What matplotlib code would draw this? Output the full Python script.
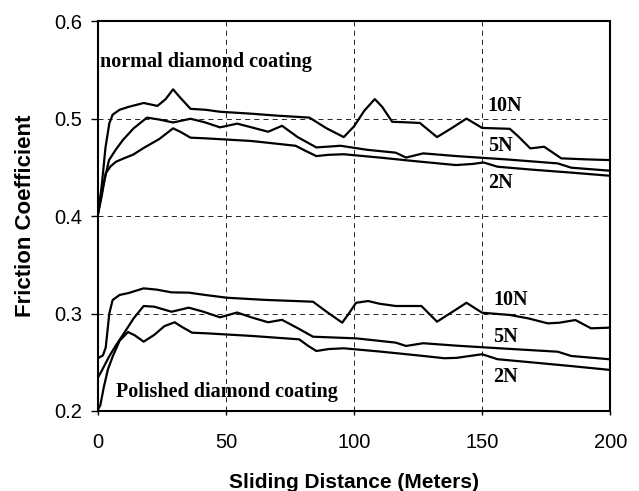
import matplotlib
matplotlib.use("Agg")
import matplotlib.pyplot as plt

# ---- data ----
x_n10 = [0, 1.5, 3, 4.5, 5.8, 8.5, 12, 17.9, 23.3, 26.5, 29.4, 32, 36.2, 42.2, 47.7, 60, 70, 82.6, 89.3, 96, 100, 104, 108.1, 111, 114.9, 120, 125.7, 132.4, 138, 143.9, 150, 160.8, 164, 168.8, 174.2, 180.9, 190, 200]
y_n10 = [0.401, 0.43, 0.47, 0.495, 0.504, 0.509, 0.512, 0.516, 0.513, 0.52, 0.530, 0.522, 0.510, 0.509, 0.507, 0.505, 0.503, 0.501, 0.490, 0.481, 0.492, 0.508, 0.520, 0.512, 0.4967, 0.4962, 0.4955, 0.481, 0.49, 0.500, 0.4904, 0.4895, 0.482, 0.4694, 0.4711, 0.4592, 0.4582, 0.4574]

x_n5 = [0, 2, 4.4, 7, 9.8, 14, 19.2, 24, 29.4, 36.2, 42, 47.7, 54.4, 60, 66.5, 71.9, 78, 85.3, 94.8, 105, 116.3, 120.3, 127, 140, 160, 179.5, 184.8, 200]
y_n5 = [0.401, 0.43, 0.4574, 0.468, 0.478, 0.490, 0.501, 0.499, 0.496, 0.4998, 0.496, 0.491, 0.4948, 0.491, 0.4865, 0.4926, 0.481, 0.4704, 0.4721, 0.468, 0.465, 0.460, 0.4643, 0.4615, 0.458, 0.454, 0.4496, 0.4465]

x_n2 = [0, 1.5, 3.1, 5, 7.1, 10, 13.8, 18, 24, 29.4, 32.5, 36.2, 42.2, 60, 77.2, 81, 85.3, 90, 96, 110, 125, 139.8, 146.5, 150.5, 156, 170, 185, 200]
y_n2 = [0.401, 0.42, 0.4438, 0.451, 0.4557, 0.459, 0.463, 0.470, 0.479, 0.490, 0.486, 0.4804, 0.4797, 0.477, 0.4721, 0.467, 0.4615, 0.4628, 0.4634, 0.460, 0.456, 0.4523, 0.4535, 0.455, 0.4506, 0.4475, 0.4445, 0.4413]

x_p10 = [0, 2, 3.1, 4.5, 5.8, 8.5, 12, 17.9, 23, 28.8, 35.5, 42, 50.3, 65, 84, 89.3, 95.4, 98, 100.8, 105.5, 110, 116.3, 126.3, 132.4, 138, 143.9, 150, 160.8, 168, 175.6, 180, 186.4, 192.5, 200]
y_p10 = [0.254, 0.257, 0.265, 0.300, 0.3138, 0.319, 0.321, 0.3258, 0.3245, 0.3217, 0.3214, 0.319, 0.3162, 0.314, 0.3121, 0.3018, 0.2906, 0.300, 0.311, 0.3128, 0.310, 0.3077, 0.3077, 0.2916, 0.301, 0.311, 0.3008, 0.2985, 0.295, 0.2899, 0.2905, 0.2933, 0.2848, 0.2855]

x_p5 = [0, 1.7, 4.4, 7, 9.8, 14, 17.9, 22, 28.8, 35.5, 41, 47.7, 54.4, 60, 66.5, 71.9, 78, 84, 100.8, 116.3, 120.3, 127, 140, 160, 179.5, 184.8, 200]
y_p5 = [0.234, 0.242, 0.2557, 0.267, 0.278, 0.295, 0.3077, 0.307, 0.3018, 0.306, 0.302, 0.2961, 0.301, 0.296, 0.291, 0.2935, 0.285, 0.2762, 0.2745, 0.2701, 0.2667, 0.2695, 0.267, 0.2638, 0.2608, 0.2564, 0.2530]

x_p2 = [0, 1, 2.4, 4, 5.8, 8.5, 11.8, 14.5, 17.9, 22, 26, 30, 33, 36.8, 42.2, 60, 78.6, 82, 85.3, 90, 96, 110, 125, 135.3, 140, 150, 156, 170, 185, 200]
y_p2 = [0.201, 0.206, 0.225, 0.243, 0.2557, 0.272, 0.281, 0.2775, 0.2711, 0.278, 0.287, 0.291, 0.286, 0.2803, 0.2797, 0.277, 0.2735, 0.267, 0.2615, 0.2635, 0.2643, 0.261, 0.257, 0.2541, 0.2545, 0.2582, 0.2531, 0.2497, 0.246, 0.2421]

x_ticks = [0, 50, 100, 150, 200]
y_ticks = [0.2, 0.3, 0.4, 0.5, 0.6]

load_labels = ["10N", "5N", "2N"]

# ---- figure ----
fig = plt.figure(figsize=(6.39, 4.91), dpi=100)
ax = fig.add_axes([0.153, 0.163, 0.802, 0.794])

for xs, ys in [(x_n10, y_n10), (x_n5, y_n5), (x_n2, y_n2),
               (x_p10, y_p10), (x_p5, y_p5), (x_p2, y_p2)]:
    ax.plot(xs, ys, color="black", lw=1.6, solid_joinstyle="round")

ax.set_xlim(0, 200)
ax.set_ylim(0.2, 0.6)
ax.set_xticks(x_ticks)
ax.set_yticks(y_ticks)
ax.set_yticklabels([f"{v:.1f}" for v in y_ticks])
ax.grid(True, color="black", linestyle=(0, (6, 5)), linewidth=0.6)
ax.tick_params(direction="out", width=1, labelsize=14.5)
ax.tick_params(axis="x", length=3, pad=13)
ax.tick_params(axis="y", length=5, pad=6)
for lab in ax.get_xticklabels() + ax.get_yticklabels():
    lab.set_family("Liberation Sans")
for sp in ax.spines.values():
    sp.set_linewidth(1.5)

ax.set_xlabel("Sliding Distance (Meters)", fontsize=15, fontweight="bold",
              family="Liberation Sans", labelpad=15)
ax.set_ylabel("Friction Coefficient", fontsize=16, fontweight="bold",
              family="Liberation Sans", labelpad=13)

serif = dict(family="Liberation Serif", fontweight="bold", fontsize=14.5, color="black")
ax.text(0.8, 0.558, "normal diamond coating", va="center", ha="left", **serif)
ax.text(7.0, 0.2195, "Polished diamond coating", va="center", ha="left", **serif)

for lab, yy in zip(load_labels, [0.513, 0.472, 0.434]):
    ax.text(152.2, yy, lab, va="center", ha="left", **serif)
for lab, yy in zip(load_labels, [0.314, 0.276, 0.235]):
    ax.text(154.3, yy, lab, va="center", ha="left", **serif)

fig.savefig("out.png", dpi=100)
